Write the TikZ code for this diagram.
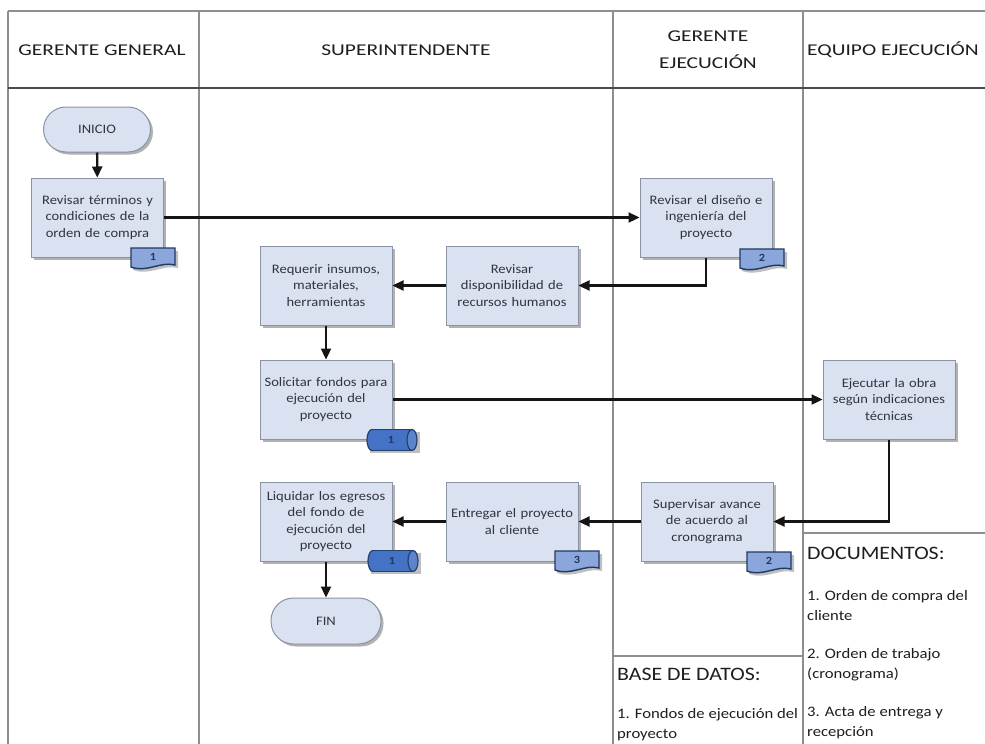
\documentclass[tikz,border=0pt]{standalone}
\usepackage{fontspec}
\setmainfont{Carlito}
\newfontfamily\boxfont{Carlito}[FakeStretch=1.12]
\newfontfamily\hdrfont{Carlito}[FakeStretch=1.3]
\newfontfamily\docfont{Carlito}[FakeStretch=1.15]
\usetikzlibrary{arrows.meta,shadows}
\definecolor{boxfill}{HTML}{DAE2F2}
\definecolor{boxline}{HTML}{8A93A3}
\definecolor{boxtext}{HTML}{30343E}
\definecolor{lanec}{HTML}{8E8E8E}
\definecolor{hdrline}{HTML}{4A4A4A}
\definecolor{arrowc}{HTML}{151515}
\definecolor{tagfill}{HTML}{8AA6DA}
\definecolor{tagline}{HTML}{1F3864}
\definecolor{cylfill}{HTML}{4472C4}
\definecolor{cylend}{HTML}{5B84CC}
\definecolor{cylline}{HTML}{24406E}
\definecolor{txtc}{HTML}{1E1E1E}

\newcommand{\mydoctag}[4]{% name, center x, top y, label
  \fill[black, opacity=0.25] (#2-20,#3+3) -- (#2+25,#3+3) -- (#2+25,#3+20) .. controls (#2+11,#3+16) and (#2-3,#3+28) .. (#2-20,#3+22) -- cycle;
  \draw[draw=tagline, fill=tagfill, line width=1.4pt] (#2-22,#3) -- (#2+22,#3) -- (#2+22,#3+17) .. controls (#2+8,#3+13) and (#2-6,#3+25) .. (#2-22,#3+19) -- cycle;
  \node[tagtext] (#1) at (#2,#3+9) {#4};
}
\newcommand{\mycyltag}[4]{% name, x1, center y, label
  \fill[black, opacity=0.25] (#2+3,#3-8) rectangle (#2+53,#3+13);
  \filldraw[draw=cylline, fill=cylfill, line width=1.2pt] (#2+5,#3) ellipse [x radius=5, y radius=10.5];
  \fill[cylfill] (#2+5,#3-10.5) rectangle (#2+45,#3+10.5);
  \draw[cylline, line width=1.2pt] (#2+5,#3-10.5) -- (#2+45,#3-10.5) (#2+5,#3+10.5) -- (#2+45,#3+10.5);
  \filldraw[draw=cylline, fill=cylend, line width=1.2pt] (#2+45,#3) ellipse [x radius=5, y radius=10.5];
  \node[tagtext] (#1) at (#2+24,#3) {#4};
}

\begin{document}
\begin{tikzpicture}[x=1pt, y=-1pt,
  procbox/.style={draw=boxline, fill=boxfill, line width=1pt,
    minimum width=132pt, minimum height=79pt, text width=124pt, align=center,
    inner sep=2pt, text=boxtext,
    font=\boxfont\fontsize{13}{16.5}\selectfont,
    drop shadow={shadow xshift=2.5pt, shadow yshift=-2.5pt, opacity=0.3, fill=black}},
  termbox/.style={procbox, minimum width=107pt, minimum height=45pt, text width=90pt,
    rounded corners=22.5pt},
  flow/.style={-{Triangle[length=11pt,width=10pt]}, line width=2.3pt, draw=arrowc},
  lane/.style={draw=lanec, line width=1.3pt},
  hdr/.style={font=\hdrfont\fontsize{16.5}{27}\selectfont, text=txtc, align=center},
  bigtitle/.style={font=\docfont\fontsize{19}{22}\selectfont, text=txtc, anchor=west, inner sep=0pt},
  listtext/.style={font=\docfont\fontsize{14.5}{20}\selectfont, text=txtc, anchor=west, align=left, inner sep=0pt},
  tagtext/.style={font=\boxfont\bfseries\fontsize{11}{12}\selectfont, text=tagline, inner sep=0pt}
]
\useasboundingbox (0,0) rectangle (985,744);
\fill[white] (0,0) rectangle (985,744);

% lanes
\draw[lane] (8,11) -- (985,11);
\draw[lane] (8,11) -- (8,744);
\draw[lane] (199,11) -- (199,744);
\draw[lane] (613,11) -- (613,744);
\draw[lane] (803,11) -- (803,744);
\draw[draw=hdrline, line width=1.8pt] (8,88) -- (985,88);
\draw[lane] (803,533) -- (985,533);
\draw[lane] (613,656) -- (803,656);

% headers
\node[hdr] (h1) at (102,50) {GERENTE GENERAL};
\node[hdr] (h2) at (406,50) {SUPERINTENDENTE};
\node[hdr] (h3) at (708,50) {GERENTE\\EJECUCIÓN};
\node[hdr, anchor=west, inner sep=0pt] (h4) at (807,50) {EQUIPO EJECUCIÓN};

% nodes
\node[termbox] (ini) at (97,129.5) {INICIO};
\node[procbox] (A) at (97.5,217.5) {Revisar términos y\\condiciones de la\\orden de compra};
\node[procbox] (B) at (706,217.5) {Revisar el diseño e\\ingeniería del\\proyecto};
\node[procbox] (C) at (326,285.5) {Requerir insumos,\\materiales,\\herramientas};
\node[procbox] (D) at (512,285.5) {Revisar\\disponibilidad de\\recursos humanos};
\node[procbox] (E) at (326,399.5) {Solicitar fondos para\\ejecución del\\proyecto};
\node[procbox] (F) at (889,399.5) {Ejecutar la obra\\según indicaciones\\técnicas};
\node[procbox] (G) at (326,521.5) {Liquidar los egresos\\del fondo de\\ejecución del\\proyecto};
\node[procbox] (H) at (512,521.5) {Entregar el proyecto\\al cliente};
\node[procbox] (I) at (707,521.5) {Supervisar avance\\de acuerdo al\\cronograma};
\node[termbox, minimum width=110pt, minimum height=46pt] (fin) at (326,621) {FIN};

% tags
\mydoctag{tA}{153}{248}{1}
\mydoctag{tB}{762}{249}{2}
\mycyltag{tE}{367}{440}{1}
\mycyltag{tG}{368}{561}{1}
\mydoctag{tH}{577}{551}{3}
\mydoctag{tI}{769}{552}{2}

% connectors
\draw[flow] (ini) -- (A);
\draw[flow] (A) -- (B);
\draw[flow] (B.south) |- (D.east);
\draw[flow] (D) -- (C);
\draw[flow] (C) -- (E);
\draw[flow] (E) -- (F);
\draw[flow] (F.south) |- (I.east);
\draw[flow] (I) -- (H);
\draw[flow] (H) -- (G);
\draw[flow] (G) -- (fin);

% documents / database
\node[bigtitle] (doct) at (807,553) {DOCUMENTOS:};
\node[listtext] (d1) at (807,606) {1. Orden de compra del\\cliente};
\node[listtext] (d2) at (807,665) {2. Orden de trabajo\\(cronograma)};
\node[listtext] (d3) at (807,723) {3. Acta de entrega y\\recepción};
\node[bigtitle] (bdt) at (617,674) {BASE DE DATOS:};
\node[listtext] (b1) at (617,725) {1. Fondos de ejecución del\\proyecto};
\end{tikzpicture}
\end{document}
